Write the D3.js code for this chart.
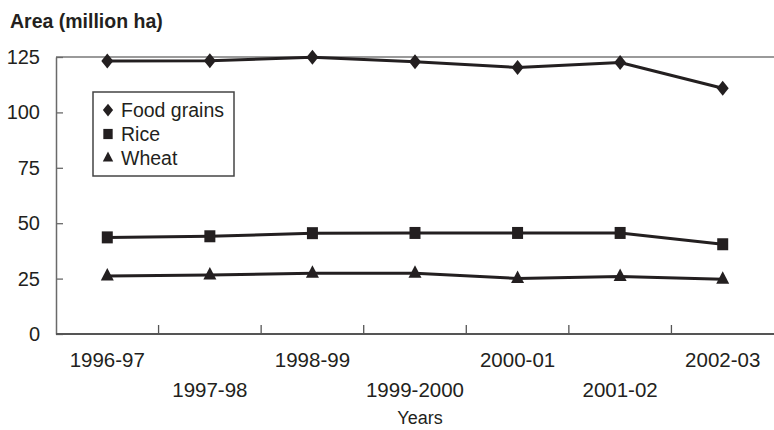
<!DOCTYPE html>
<html>
<head>
<meta charset="utf-8">
<script src="https://cdn.jsdelivr.net/npm/d3@7"></script>
<style>
  html, body { margin: 0; padding: 0; background: #fff; }
  svg { display: block; font-family: "Liberation Sans", Arial, sans-serif; }
</style>
</head>
<body>
<svg id="chart" width="774" height="430"></svg>
<script>
const years = ["1996-97", "1997-98", "1998-99", "1999-2000", "2000-01", "2001-02", "2002-03"];
const foodGrains = [123.2, 123.3, 124.9, 122.9, 120.3, 122.5, 110.9];
const rice = [43.6, 44.1, 45.5, 45.6, 45.6, 45.6, 40.5];
const wheat = [26.2, 26.6, 27.4, 27.4, 25.1, 25.9, 24.7];
const yTicks = [0, 25, 50, 75, 100, 125];
const seriesNames = ["Food grains", "Rice", "Wheat"];
const titleText = "Area (million ha)";
const xTitle = "Years";

const svg = d3.select("#chart");
const ink = "#231f20";

const x = d3.scaleBand().domain(years).range([56, 774]).padding(0);
const y = d3.scaleLinear().domain([0, 125]).range([334, 57]);

// top frame line at 125
svg.append("line")
  .attr("x1", x.range()[0]).attr("x2", x.range()[1])
  .attr("y1", y(125)).attr("y2", y(125))
  .attr("stroke", "#9a9a9a").attr("stroke-width", 2);

// Y axis (ticks inside)
const yAxis = d3.axisLeft(y).tickValues(yTicks).tickSize(-7).tickPadding(16).tickSizeOuter(0);
const gy = svg.append("g").attr("transform", `translate(${x.range()[0]},0)`).call(yAxis);
gy.select(".domain").attr("stroke", "#6a6a6a").attr("stroke-width", 1.5);
gy.selectAll(".tick line").attr("stroke", "#6a6a6a").attr("stroke-width", 1.3);
gy.selectAll(".tick text").attr("font-size", 20).attr("fill", ink)
  .attr("font-family", "Liberation Sans, Arial, sans-serif");

// X axis line
svg.append("line")
  .attr("x1", x.range()[0]).attr("x2", x.range()[1])
  .attr("y1", y(0)).attr("y2", y(0))
  .attr("stroke", "#555").attr("stroke-width", 2);

// X ticks at band boundaries (inward)
svg.append("g").selectAll("line")
  .data(years.slice(1))
  .join("line")
  .attr("x1", d => x(d)).attr("x2", d => x(d))
  .attr("y1", y(0)).attr("y2", y(0) - 9)
  .attr("stroke", "#555").attr("stroke-width", 1.3);

// X labels staggered
svg.append("g").selectAll("text")
  .data(years)
  .join("text")
  .attr("x", d => x(d) + x.bandwidth() / 2)
  .attr("y", (d, i) => i % 2 === 0 ? 367 : 397)
  .attr("text-anchor", "middle")
  .attr("font-size", 20.5)
  .attr("fill", ink)
  .text(d => d);

// Titles
svg.append("text").attr("x", 10).attr("y", 28)
  .attr("font-size", 19.5).attr("font-weight", "bold").attr("fill", ink)
  .text(titleText);
svg.append("text").attr("x", 420).attr("y", 424)
  .attr("text-anchor", "middle").attr("font-size", 18).attr("fill", ink)
  .text(xTitle);

// marker shapes
const diamond = "M0,-7.5L6,0L0,7.5L-6,0Z";
const square = "M-5.5,-6L5.5,-6L5.5,6L-5.5,6Z";
const triangle = "M0,-8L6.5,4.5L-6.5,4.5Z";
const shapes = [diamond, square, triangle];
const data = [foodGrains, rice, wheat];

const line = d3.line().x((d, i) => x(years[i]) + x.bandwidth() / 2).y(d => y(d));

data.forEach((vals, s) => {
  svg.append("path").datum(vals)
    .attr("d", line)
    .attr("fill", "none")
    .attr("stroke", ink)
    .attr("stroke-width", 3)
    .attr("stroke-linejoin", "round");
  svg.append("g").selectAll("path")
    .data(vals)
    .join("path")
    .attr("d", shapes[s])
    .attr("transform", (d, i) => `translate(${x(years[i]) + x.bandwidth() / 2},${y(d)})`)
    .attr("fill", ink);
});

// Legend
const lg = svg.append("g");
lg.append("rect").attr("x", 93).attr("y", 92).attr("width", 141).attr("height", 84)
  .attr("fill", "#fff").attr("stroke", "#444").attr("stroke-width", 1.5);
const legendSizes = [0.85, 0.85, 0.8];
seriesNames.forEach((name, i) => {
  const cy = 110 + i * 24;
  lg.append("path").attr("d", shapes[i])
    .attr("transform", `translate(108,${cy}) scale(${legendSizes[i]})`)
    .attr("fill", ink);
  lg.append("text").attr("x", 121).attr("y", cy).attr("dy", "0.36em")
    .attr("font-size", 19.5).attr("fill", ink).text(name);
});
</script>
</body>
</html>
